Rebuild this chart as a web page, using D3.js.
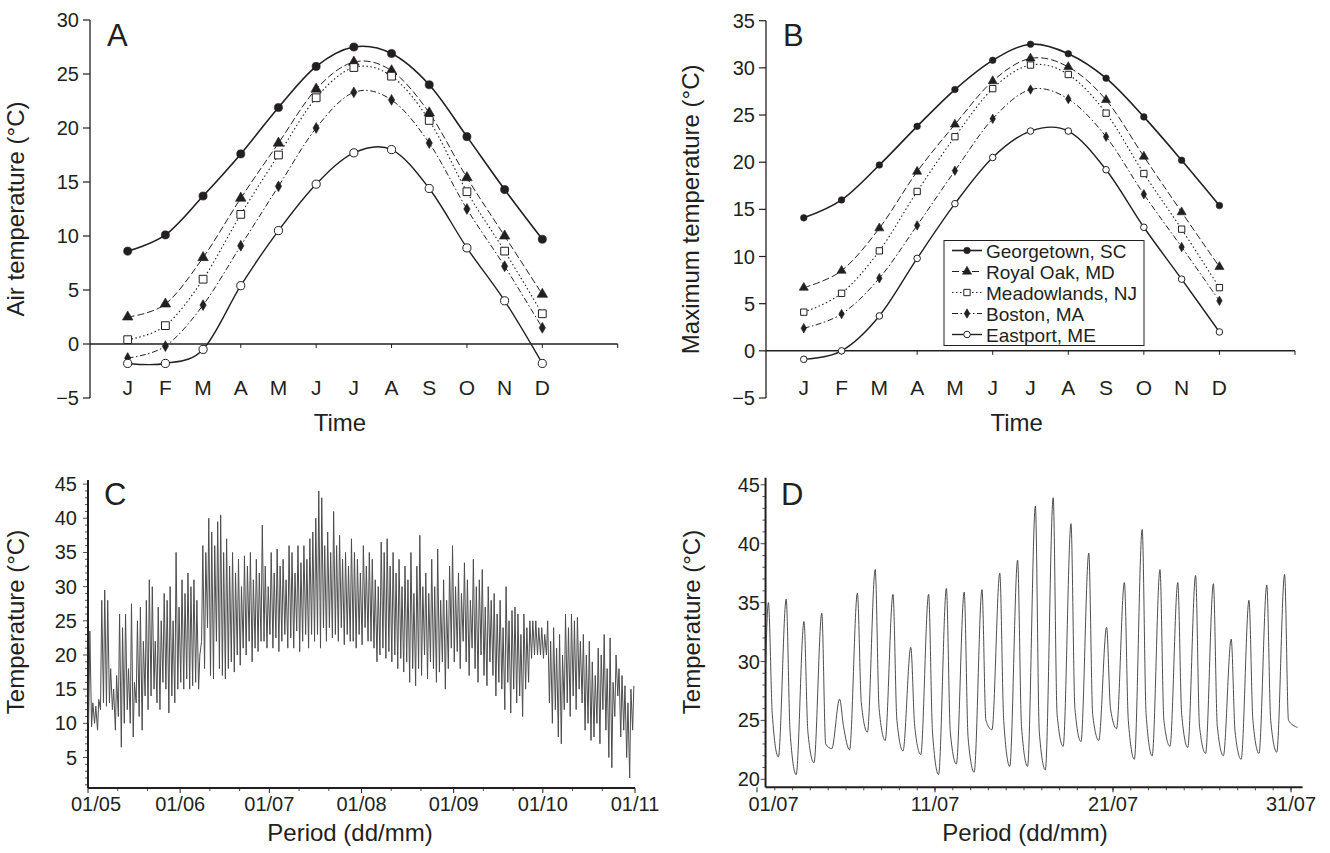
<!DOCTYPE html>
<html>
<head>
<meta charset="utf-8">
<script src="https://cdn.jsdelivr.net/npm/d3@7"></script>
<style>
  body { margin: 0; background: #fff; }
  svg { display: block; font-family: "Liberation Sans", Arial, Helvetica, sans-serif; }
</style>
</head>
<body>
<svg id="chart" width="1330" height="853"></svg>
<script>
/* Panels A/B: monthly means for five sites; C: daily min/max May-Oct; D: hourly July */
var months = ['J', 'F', 'M', 'A', 'M', 'J', 'J', 'A', 'S', 'O', 'N', 'D'];
var sites = ['Georgetown, SC', 'Royal Oak, MD', 'Meadowlands, NJ', 'Boston, MA', 'Eastport, ME'];

/* A: air temperature (°C) */
var airGeorgetown  = [8.6, 10.1, 13.7, 17.6, 21.9, 25.7, 27.5, 26.9, 24.0, 19.2, 14.3, 9.7];
var airRoyalOak    = [2.5, 3.7, 8.0, 13.5, 18.6, 23.6, 26.1, 25.3, 21.4, 15.4, 10.0, 4.6];
var airMeadowlands = [0.4, 1.7, 6.0, 12.0, 17.5, 22.8, 25.6, 24.8, 20.7, 14.1, 8.6, 2.8];
var airBoston      = [-1.3, -0.2, 3.6, 9.1, 14.6, 20.0, 23.3, 22.6, 18.6, 12.5, 7.2, 1.5];
var airEastport    = [-1.8, -1.8, -0.5, 5.4, 10.5, 14.8, 17.7, 18.0, 14.4, 8.9, 4.0, -1.8];

/* B: maximum temperature (°C) */
var maxGeorgetown  = [14.1, 16.0, 19.7, 23.8, 27.7, 30.8, 32.5, 31.5, 28.9, 24.8, 20.2, 15.4];
var maxRoyalOak    = [6.7, 8.5, 13.0, 19.0, 24.0, 28.6, 31.0, 30.1, 26.6, 20.6, 14.7, 8.9];
var maxMeadowlands = [4.1, 6.1, 10.6, 16.9, 22.7, 27.8, 30.3, 29.3, 25.2, 18.8, 12.9, 6.7];
var maxBoston      = [2.4, 3.9, 7.7, 13.3, 19.1, 24.6, 27.7, 26.7, 22.7, 16.6, 11.0, 5.3];
var maxEastport    = [-0.9, 0.0, 3.7, 9.8, 15.6, 20.5, 23.3, 23.3, 19.2, 13.1, 7.6, 2.0];

/* C: daily max / min from 01/05 (184 days) */
var cMax = [
  23.5, 13, 12.5, 13.5, 28, 29.5, 28, 18, 15, 17,
  26, 24, 26, 18, 27.5, 16, 25, 27, 22, 28,
  31, 30, 22, 27, 25, 29, 28, 30, 25, 35,
  27, 31, 29, 32, 30, 31, 28, 20, 36, 35,
  40, 38, 36, 39.5, 40.5, 35, 37, 33, 35, 32,
  34, 30, 34.5, 33, 35, 31, 34, 32, 39, 33,
  30, 35, 32, 35.5, 33, 34, 31, 36, 35, 32,
  36, 33.5, 36, 34, 37, 38, 40, 44, 43, 36,
  38, 35, 41, 36, 37.5, 34, 35, 33, 37, 35,
  34, 32, 36, 33, 35, 34, 31, 30, 36.5, 35,
  37, 33, 35, 32, 34, 30, 33, 31, 35, 29,
  33, 37.5, 30, 32, 29, 34, 30, 35.5, 28, 31,
  28, 33, 36, 30, 32, 29, 33.5, 31, 28, 34,
  30, 31, 32.5, 27, 30, 28, 29, 26, 28, 24,
  30, 25, 26.5, 27, 26, 23, 26, 24, 25, 25,
  25, 24, 24, 23, 25, 22, 24, 21, 23, 20,
  26, 24, 26, 25, 25.5, 22, 23, 20, 22, 19,
  17, 21, 20, 23, 18, 22.5, 16, 20, 18, 17,
  15.5, 13, 15, 15.5
];
var cMin = [
  10, 9.5, 10, 9, 12, 13, 12.5, 13, 12, 9,
  11, 6.5, 10, 12, 10, 8, 13, 11, 9, 14,
  12, 14, 15, 13, 12, 16, 15, 11.5, 14, 13,
  15, 16, 15, 16.5, 15, 15.5, 16, 15, 22, 18,
  24, 17, 16.5, 22, 18, 17, 16.5, 18, 19, 17.5,
  20, 18.5, 21, 20, 22, 19, 21, 20.5, 22, 22,
  21, 23, 21, 22.5, 20.5, 22, 23, 21, 22.5, 21,
  23.5, 20.5, 22, 23, 21, 23, 22, 23, 21, 24,
  22, 24, 22.5, 23, 22, 24, 21.5, 23, 22, 22,
  21, 23, 21.5, 24, 22, 22, 21, 19, 20, 21,
  19.5, 20.5, 19, 20, 18, 19.5, 17.5, 19, 16, 18,
  15.5, 18, 17, 20, 16.5, 19, 18, 16, 17.5, 19,
  15, 18, 21, 19, 20.5, 18, 22, 19, 17, 21,
  18, 16, 20, 17, 15.5, 19, 17, 14, 16, 15,
  12, 16, 11.5, 15, 13, 14, 11, 15, 16, 19.5,
  20, 20, 20, 19.5, 20, 13, 10, 12, 8, 7,
  12, 13, 11, 14, 12, 15, 13, 9, 10, 7.5,
  8, 10, 7, 12, 9, 5, 3.5, 11, 14, 8,
  9, 5, 2, 9
];

/* D: July daily cycle – afternoon peak, evening value, next-morning low */
var dStart = 29.5;
var dPeak = [35.0, 35.3, 33.4, 34.1, 26.8, 35.8, 37.8, 35.7, 31.2, 35.7,
             36.2, 35.9, 36.1, 37.5, 38.6, 43.2, 43.9, 41.7, 39.2, 32.9,
             36.7, 41.2, 37.8, 36.7, 37.3, 36.6, 31.9, 35.2, 36.5, 37.4];
var dEve  = [25.5, 24.0, 24.0, 23.0, 24.5, 26.5, 26.0, 25.0, 24.5, 24.0,
             24.0, 23.5, 25.0, 25.0, 24.5, 24.0, 25.5, 26.0, 25.5, 26.0,
             25.0, 25.5, 25.0, 25.5, 24.5, 24.5, 24.0, 25.0, 25.0, 25.0];
var dLow  = [21.9, 20.4, 21.4, 22.6, 22.5, 24.0, 23.3, 22.4, 22.1, 20.4,
             21.3, 20.6, 24.2, 21.1, 21.1, 20.8, 22.8, 23.2, 23.3, 24.3,
             21.7, 22.0, 22.8, 22.7, 22.2, 22.0, 21.7, 22.2, 22.3];
var dEnd = 24.4;

(function () {
  'use strict';
  var svg = d3.select('#chart');
  var ink = '#231f20';

  svg.append('rect').attr('width', 1330).attr('height', 853).attr('fill', '#fff');

  var lineStyles = [
    { dash: null,            width: 1.6, type: d3.symbolCircle,   open: false, size: [52, 34] },
    { dash: '7,3',           width: 1.0, type: d3.symbolTriangle, open: false, size: [48, 36] },
    { dash: '1.5,2.5',       width: 1.1, type: d3.symbolSquare,   open: true,  size: [60, 40] },
    { dash: '6,2.5,1.5,2.5', width: 1.0, type: d3.symbolDiamond,  open: false, size: [34, 26] },
    { dash: null,            width: 1.4, type: d3.symbolCircle,   open: true,  size: [52, 34] }
  ];

  function drawMarker(g, st, sizeIdx, cx, cy) {
    g.append('path')
      .attr('d', d3.symbol().type(st.type).size(st.size[sizeIdx])())
      .attr('transform', 'translate(' + cx + ',' + cy + ')')
      .attr('fill', st.open ? '#fff' : ink)
      .attr('stroke', ink).attr('stroke-width', st.open ? 1 : 0.6);
  }

  /* ---------- monthly panels ---------- */
  function monthlyPanel(opt) {
    var g = svg.append('g');
    var x = d3.scaleLinear().domain([-1, 13]).range(opt.xRange);
    var y = d3.scaleLinear().domain(opt.yDomain).range([398, opt.yTop]);
    var x0 = opt.xRange[0];

    /* y axis */
    g.append('line').attr('x1', x0).attr('x2', x0)
      .attr('y1', y(opt.yDomain[0])).attr('y2', y(opt.yDomain[1]))
      .attr('stroke', ink).attr('stroke-width', 1.3);
    var yt = d3.range(opt.yDomain[0], opt.yDomain[1] + 1, 5);
    g.selectAll('.ytick').data(yt).enter().append('line')
      .attr('x1', x0 - 7).attr('x2', x0).attr('y1', y).attr('y2', y)
      .attr('stroke', ink).attr('stroke-width', 1.2);
    g.selectAll('.ylab').data(yt).enter().append('text')
      .attr('x', x0 - 11).attr('y', function (d) { return y(d) + 7; })
      .attr('text-anchor', 'end').style('font-size', '20px').style('fill', ink)
      .text(d3.format('d'));

    /* x axis on the zero line */
    g.append('line').attr('x1', x0).attr('x2', opt.xRange[1])
      .attr('y1', y(0)).attr('y2', y(0))
      .attr('stroke', ink).attr('stroke-width', 1.5);
    g.selectAll('.xtick').data(d3.range(1, 14, 2)).enter().append('line')
      .attr('x1', x).attr('x2', x).attr('y1', y(0)).attr('y2', y(0) + 4)
      .attr('stroke', ink).attr('stroke-width', 1);
    g.selectAll('.mlab').data(months).enter().append('text')
      .attr('x', function (d, i) { return x(i); }).attr('y', 395)
      .attr('text-anchor', 'middle').style('font-size', '21px').style('fill', ink)
      .text(function (d) { return d; });
    g.append('text').attr('x', x(5.5) + 5).attr('y', 431)
      .attr('text-anchor', 'middle').style('font-size', '24px').style('fill', ink)
      .text('Time');
    g.append('text')
      .attr('transform', 'translate(' + opt.titleX + ',' + (y.range()[0] + y.range()[1]) / 2 + ') rotate(-90)')
      .attr('text-anchor', 'middle').style('font-size', '24px').style('fill', ink)
      .text(opt.yTitle);
    g.append('text').attr('x', opt.letterX).attr('y', 46)
      .style('font-size', '31px').style('fill', ink).text(opt.letter);

    var line = d3.line()
      .x(function (d, i) { return x(i); }).y(function (d) { return y(d); })
      .curve(d3.curveCardinal.tension(0));
    opt.series.forEach(function (s, k) {
      var st = lineStyles[k];
      g.append('path').attr('d', line(s))
        .attr('fill', 'none').attr('stroke', ink).attr('stroke-width', st.width)
        .attr('stroke-dasharray', st.dash);
    });
    opt.series.forEach(function (s, k) {
      s.forEach(function (v, i) { drawMarker(g, lineStyles[k], opt.markerSize, x(i), y(v)); });
    });
    return g;
  }

  monthlyPanel({
    xRange: [90, 617.7], yDomain: [-5, 30], yTop: 20, titleX: 24, letterX: 107, letter: 'A',
    yTitle: 'Air temperature (\u00b0C)', markerSize: 0,
    series: [airGeorgetown, airRoyalOak, airMeadowlands, airBoston, airEastport]
  });
  var gB = monthlyPanel({
    xRange: [766, 1295], yDomain: [-5, 35], yTop: 20.7, titleX: 699, letterX: 783, letter: 'B',
    yTitle: 'Maximum temperature (\u00b0C)', markerSize: 1,
    series: [maxGeorgetown, maxRoyalOak, maxMeadowlands, maxBoston, maxEastport]
  });

  /* legend inside B */
  var lg = gB.append('g');
  lg.append('rect').attr('x', 944).attr('y', 240.5).attr('width', 200).attr('height', 105)
    .attr('fill', '#fff').attr('stroke', ink).attr('stroke-width', 1);
  sites.forEach(function (name, k) {
    var st = lineStyles[k], cy = 250.5 + k * 21;
    lg.append('line').attr('x1', 952).attr('x2', 982).attr('y1', cy).attr('y2', cy)
      .attr('stroke', ink).attr('stroke-width', st.width).attr('stroke-dasharray', st.dash);
    drawMarker(lg, st, 1, 967, cy);
    lg.append('text').attr('x', 986).attr('y', cy + 7)
      .style('font-size', '19px').style('fill', ink).text(name);
  });

  /* ---------- time-series panels ---------- */
  function seriesAxes(opt) {
    var g = svg.append('g');
    var x = opt.x, y = opt.y;
    var xr = opt.xExtent, yb = y(opt.yExtent[0]);
    g.append('line').attr('x1', xr[0]).attr('x2', xr[1]).attr('y1', yb).attr('y2', yb)
      .attr('stroke', ink).attr('stroke-width', 2);
    g.append('line').attr('x1', xr[0]).attr('x2', xr[0]).attr('y1', yb).attr('y2', y(opt.yExtent[1]))
      .attr('stroke', ink).attr('stroke-width', 2);
    var minor = d3.range(Math.ceil(opt.yExtent[0]), opt.yExtent[1], 1);
    g.selectAll('.ym').data(minor).enter().append('line')
      .attr('x1', function (d) { return xr[0] - (d % 5 === 0 ? 5 : 3); }).attr('x2', xr[0])
      .attr('y1', y).attr('y2', y).attr('stroke', ink).attr('stroke-width', 0.8);
    g.selectAll('.yl').data(opt.yLabels).enter().append('text')
      .attr('x', opt.yLabelX).attr('y', function (d) { return y(d) + 7; })
      .attr('text-anchor', 'end').style('font-size', '20px').style('fill', ink).text(d3.format('d'));
    g.selectAll('.xm').data(opt.xMinor).enter().append('line')
      .attr('x1', x).attr('x2', x).attr('y1', yb).attr('y2', yb + 3)
      .attr('stroke', ink).attr('stroke-width', 0.8);
    g.selectAll('.xM').data(opt.xMajor).enter().append('line')
      .attr('x1', x).attr('x2', x).attr('y1', yb).attr('y2', yb + 5)
      .attr('stroke', ink).attr('stroke-width', 1);
    g.selectAll('.xl').data(opt.xMajor).enter().append('text')
      .attr('x', function (d) { return Math.max(x(d), xr[0] + 8); }).attr('y', 811)
      .attr('text-anchor', 'middle').style('font-size', '20px').style('fill', ink)
      .text(d3.utcFormat('%d/%m'));
    g.append('text').attr('x', opt.titleXcenter).attr('y', 841)
      .attr('text-anchor', 'middle').style('font-size', '24px').style('fill', ink)
      .text('Period (dd/mm)');
    g.append('text')
      .attr('transform', 'translate(' + opt.yTitleX + ',622) rotate(-90)')
      .attr('text-anchor', 'middle').style('font-size', '24px').style('fill', ink)
      .text('Temperature (\u00b0C)');
    g.append('text').attr('x', opt.letterX).attr('y', 505)
      .style('font-size', '31px').style('fill', ink).text(opt.letter);
    return g;
  }

  var DAY = 864e5;

  /* C */
  var c0 = Date.UTC(2010, 4, 1);
  var xC = d3.scaleUtc().domain([new Date(c0), new Date(Date.UTC(2010, 10, 1))]).range([88, 635]);
  var yC = d3.scaleLinear().domain([0.54, 45.6]).range([788, 480]);
  var cMonths = d3.utcMonth.range(new Date(c0), new Date(Date.UTC(2010, 10, 2)));
  var cDekads = [];
  cMonths.slice(0, 6).forEach(function (m) {
    cDekads.push(d3.utcDay.offset(m, 10), d3.utcDay.offset(m, 20));
  });
  var gC = seriesAxes({
    x: xC, y: yC, xExtent: [88, 635], yExtent: [0.54, 45.6], yLabels: d3.range(5, 46, 5),
    yLabelX: 77, xMajor: cMonths, xMinor: cDekads, titleXcenter: 350, yTitleX: 24,
    letterX: 104, letter: 'C'
  });
  var cPts = [];
  cMin.forEach(function (v, d) {
    cPts.push([c0 + (d + 5 / 24) * DAY, v]);
    cPts.push([c0 + (d + 15 / 24) * DAY, cMax[d]]);
  });
  gC.append('path')
    .attr('d', d3.line().x(function (p) { return xC(new Date(p[0])); }).y(function (p) { return yC(p[1]); })(cPts))
    .attr('fill', 'none').attr('stroke', '#4d4d4d').attr('stroke-width', 1);

  /* D: low near 05h, peak mid-afternoon, evening value late in the day */
  var d0 = Date.UTC(2010, 6, 1);
  var xD = d3.scaleUtc().domain([new Date(d0), new Date(d0 + 30 * DAY)]).range([757, 1291]);
  var yD = d3.scaleLinear().domain([20, 45]).range([779.3, 484.8]);
  var dStartT = d0 + 0.48 * DAY, dEndT = d0 + 30.65 * DAY;
  var gD = seriesAxes({
    x: xD, y: yD, xExtent: [xD(new Date(dStartT)), xD(new Date(dEndT))], yExtent: [19.32, 45.6],
    yLabels: d3.range(20, 46, 5), yLabelX: 760,
    xMajor: [0, 10, 20, 30].map(function (k) { return new Date(d0 + k * DAY); }),
    xMinor: d3.range(1, 31).map(function (k) { return new Date(d0 + k * DAY); }),
    titleXcenter: 1025, yTitleX: 700, letterX: 781, letter: 'D'
  });
  var dPts = [[dStartT, dStart]];
  dPeak.forEach(function (v, k) {
    dPts.push([d0 + (k + 0.64) * DAY, v]);
    dPts.push([d0 + (k + 0.86) * DAY, dEve[k]]);
    if (k < dLow.length) dPts.push([d0 + (k + 1.2) * DAY, dLow[k]]);
  });
  dPts.push([d0 + 30.37 * DAY, dEnd]);
  gD.append('path')
    .attr('d', d3.line().curve(d3.curveMonotoneX)
      .x(function (p) { return xD(new Date(p[0])); }).y(function (p) { return yD(p[1]); })(dPts))
    .attr('fill', 'none').attr('stroke', '#3a3a3a').attr('stroke-width', 0.9);
})();
</script>
</body>
</html>
